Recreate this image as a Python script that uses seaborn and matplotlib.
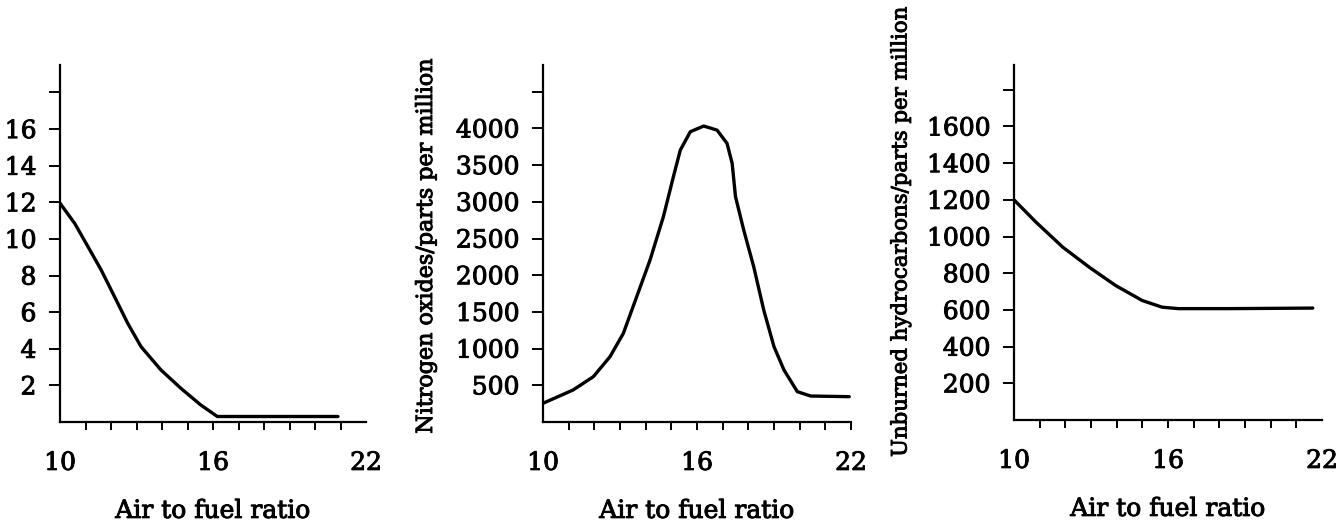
import matplotlib
matplotlib.use("Agg")
import matplotlib.pyplot as plt
import matplotlib.patheffects as pe
import seaborn as sns

# --- Data ---
co_ratio = [10.0, 10.58, 11.1, 11.62, 12.14, 12.66, 13.18, 13.96, 14.74, 15.52, 16.17, 18.0, 20.9]
co_pct = [11.95, 10.84, 9.57, 8.29, 6.84, 5.38, 4.11, 2.84, 1.84, 0.93, 0.3, 0.3, 0.3]

nox_ratio = [10.0, 11.17, 11.96, 12.61, 13.13, 13.65, 14.17, 14.69, 15.08, 15.35, 15.74, 16.26,
             16.78, 17.17, 17.37, 17.5, 17.82, 18.21, 18.6, 19.0, 19.39, 19.91, 20.43, 21.93]
nox_ppm = [255, 436, 617, 890, 1208, 1707, 2207, 2797, 3342, 3706, 3956, 4033,
           3978, 3797, 3524, 3070, 2616, 2116, 1526, 1026, 708, 413, 354, 345]

hc_ratio = [10.0, 10.86, 11.9, 12.93, 13.96, 15.0, 15.77, 16.4, 18.35, 21.64]
hc_ppm = [1200, 1078, 942, 833, 733, 651, 615, 607, 607, 610]

x_labels = ["10", "16", "22"]
co_ticks = [2, 4, 6, 8, 10, 12, 14, 16, 18]
nox_ticks = [500, 1000, 1500, 2000, 2500, 3000, 3500, 4000, 4500]
hc_ticks = [200, 400, 600, 800, 1000, 1200, 1400, 1600, 1800]

XLABEL = "Air to fuel ratio"
NOX_LABEL = "Nitrogen oxides/parts per million"
HC_LABEL = "Unburned hydrocarbons/parts per million"

sns.set_style("ticks")
plt.rcParams['font.family'] = ['DejaVu Serif']
plt.rcParams['text.color'] = 'black'
plt.rcParams['axes.labelcolor'] = 'black'

# slightly heavier strokes on text, like the printed original
BOLDISH = [pe.withStroke(linewidth=0.7, foreground="black")]

W, H = 1337, 524
fig = plt.figure(figsize=(W / 100, H / 100), dpi=100)


def make_axes(left, right, bottom, top):
    return fig.add_axes([left / W, (H - bottom) / H, (right - left) / W, (bottom - top) / H])


def style_panel(ax, yticks, ymax, tick22):
    ax.set_xlim(10, 22)
    ax.set_ylim(0, ymax)
    sns.despine(ax=ax)
    for s in ["left", "bottom"]:
        ax.spines[s].set_linewidth(1.6)
        ax.spines[s].set_color("black")

    xt = list(range(10, 23))
    ax.set_xticks(xt)
    ax.set_xticklabels([str(v) if str(v) in x_labels else "" for v in xt])
    ax.tick_params(axis="x", direction="out", length=5.5, width=1.4, pad=16,
                   labelsize=18, colors="black")
    ax.xaxis.get_major_ticks()[0].tick1line.set_visible(False)
    if not tick22:
        ax.xaxis.get_major_ticks()[-1].tick1line.set_visible(False)

    ax.set_yticks(yticks)
    ax.set_yticklabels([str(v) for v in yticks[:-1]] + [""])
    ax.tick_params(axis="y", direction="out", length=8, width=1.4, pad=9,
                   labelsize=18, colors="black")

    for lbl in ax.get_xticklabels() + ax.get_yticklabels():
        lbl.set_path_effects(BOLDISH)

    ax.set_xlabel(XLABEL, fontsize=18, labelpad=18, color="black", path_effects=BOLDISH)
    ax.set_ylabel("")


line_kw = dict(color="black", linewidth=2.4, sort=False, solid_joinstyle="round", solid_capstyle="round")

ax1 = make_axes(60, 366, 422, 65)
sns.lineplot(x=co_ratio, y=co_pct, ax=ax1, **line_kw)
style_panel(ax1, co_ticks, 19.5, tick22=False)

ax2 = make_axes(543, 851, 422, 65)
sns.lineplot(x=nox_ratio, y=nox_ppm, ax=ax2, **line_kw)
style_panel(ax2, nox_ticks, 4865, tick22=True)

ax3 = make_axes(1014, 1322, 420, 65)
sns.lineplot(x=hc_ratio, y=hc_ppm, ax=ax3, **line_kw)
style_panel(ax3, hc_ticks, 1935, tick22=False)

# rotated y labels (panel 1 label is cut off in the source)
fig.text(426 / W, (H - 246) / H, NOX_LABEL, rotation=90, ha="center", va="center",
         fontsize=16, path_effects=BOLDISH)
fig.text(901 / W, (H - 232) / H, HC_LABEL, rotation=90, ha="center", va="center",
         fontsize=15.3, path_effects=BOLDISH)

fig.savefig("out.png", dpi=100, facecolor="white")
